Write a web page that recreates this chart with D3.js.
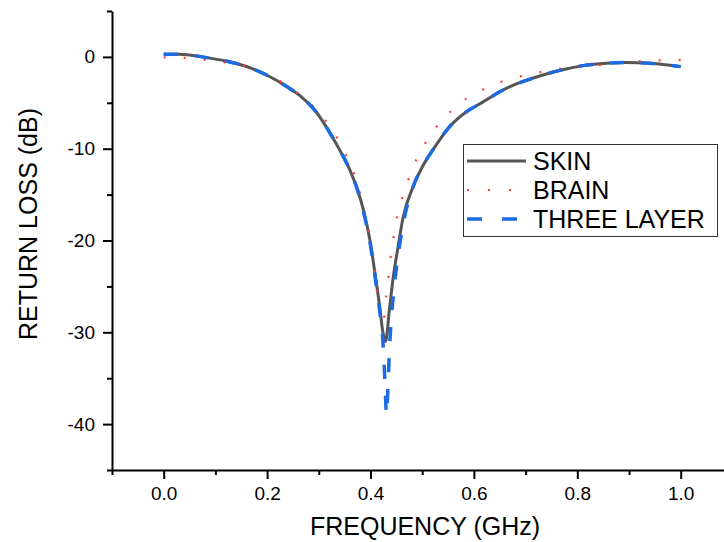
<!DOCTYPE html>
<html>
<head>
<meta charset="utf-8">
<script src="https://cdn.jsdelivr.net/npm/d3@7"></script>
<style>
  body { margin: 0; background: #fff; }
  svg { display: block; font-family: "Liberation Sans", Arial, sans-serif; }
</style>
</head>
<body>
<div id="chart"></div>
<script>
// data (GHz, dB)
var skinFreq = [0.00, 0.03, 0.08, 0.12, 0.16, 0.20, 0.24, 0.263, 0.295, 0.327, 0.343, 0.360, 0.375, 0.386, 0.399, 0.409, 0.418, 0.424, 0.429,
  0.437, 0.444, 0.453, 0.463, 0.482, 0.50, 0.521, 0.553, 0.585, 0.618, 0.65, 0.682, 0.715, 0.747, 0.78, 0.811, 0.85, 0.894, 0.94, 0.97, 1.00];
var skinLoss = [0.30, 0.30, -0.05, -0.45, -1.05, -2.0, -3.3, -4.2, -6.0, -8.8, -10.4, -12.3, -14.5, -16.6, -20.0, -23.7, -27.3, -30.0, -31.0,
  -27.3, -24.0, -20.8, -17.5, -14.2, -12.0, -10.1, -7.6, -6.0, -4.9, -3.8, -2.95, -2.3, -1.75, -1.3, -0.95, -0.72, -0.6, -0.7, -0.85, -1.06];

var brainFreq = [0.00, 0.04, 0.08, 0.12, 0.16, 0.194, 0.227, 0.258, 0.286, 0.313, 0.334, 0.352, 0.367, 0.378, 0.394, 0.406, 0.410, 0.419, 0.424,
  0.431, 0.435, 0.439, 0.444, 0.450, 0.459, 0.470, 0.483, 0.499, 0.518, 0.541, 0.569, 0.603, 0.639, 0.677, 0.716, 0.793, 0.832, 0.871, 0.911, 0.950, 1.00];
var brainLoss = [-0.04, -0.10, -0.33, -0.6, -1.0, -1.8, -2.7, -3.9, -5.2, -6.95, -8.7, -10.6, -12.5, -14.5, -18.5, -22.5, -24.0, -28.6, -29.0,
  -25.8, -23.9, -21.8, -19.8, -17.8, -15.8, -13.9, -11.9, -10.1, -8.3, -6.8, -5.2, -4.0, -3.0, -2.3, -1.8, -1.1, -0.95, -0.7, -0.5, -0.4, -0.35];

var threeFreq = [0.00, 0.03, 0.08, 0.12, 0.16, 0.20, 0.24, 0.263, 0.295, 0.327, 0.343, 0.360, 0.375, 0.386, 0.399, 0.409, 0.418, 0.424, 0.428, 0.431,
  0.434, 0.437, 0.441, 0.447, 0.455, 0.465, 0.482, 0.50, 0.521, 0.553, 0.585, 0.618, 0.65, 0.682, 0.715, 0.747, 0.78, 0.811, 0.85, 0.894, 0.94, 0.97, 1.00];
var threeLoss = [0.30, 0.30, -0.05, -0.45, -1.05, -2.0, -3.3, -4.2, -6.0, -8.8, -10.4, -12.3, -14.5, -16.8, -20.2, -24.0, -27.8, -31.0, -35.5, -39.0,
  -35.5, -31.5, -28.0, -24.5, -21.0, -17.7, -14.2, -12.0, -10.1, -7.6, -6.0, -4.9, -3.8, -2.95, -2.3, -1.75, -1.3, -0.95, -0.72, -0.6, -0.7, -0.85, -1.06];

var seriesNames = ["SKIN", "BRAIN", "THREE LAYER"];
var xTicks = [0.0, 0.2, 0.4, 0.6, 0.8, 1.0];
var xMinor = [-0.1, 0.1, 0.3, 0.5, 0.7, 0.9, 1.1];
var yTicks = [0, -10, -20, -30, -40];
var yMinor = [5, -5, -15, -25, -35, -45];

var svgWidth = 724;
var svgHeight = 542;

var svg = d3.select("#chart")
  .append("svg")
  .attr("width", svgWidth)
  .attr("height", svgHeight);

// scales
var x = d3.scaleLinear().domain([-0.1, 1.1]).range([112, 112 + 517 * 1.2]);
var y = d3.scaleLinear().domain([-45, 5]).range([470, 11]);

// axes
function styleAxis(g) {
  g.attr("font-size", 19).attr("font-family", "Liberation Sans, Arial, sans-serif");
  g.selectAll("path, line").attr("stroke", "#000").attr("stroke-width", 2);
  g.selectAll("text").attr("fill", "#000");
}

svg.append("g")
  .attr("transform", "translate(0,470)")
  .call(d3.axisBottom(x).tickValues(xTicks).tickFormat(d => d.toFixed(1)).tickSize(9).tickSizeOuter(0).tickPadding(8))
  .call(styleAxis);

svg.append("g")
  .attr("transform", "translate(0,470)")
  .call(d3.axisBottom(x).tickValues(xMinor).tickFormat("").tickSize(5).tickSizeOuter(0))
  .call(styleAxis)
  .select(".domain").remove();

svg.append("g")
  .attr("transform", "translate(112,0)")
  .call(d3.axisLeft(y).tickValues(yTicks).tickFormat(d => String(d)).tickSize(9).tickSizeOuter(0).tickPadding(8))
  .call(styleAxis);

svg.append("g")
  .attr("transform", "translate(112,0)")
  .call(d3.axisLeft(y).tickValues(yMinor).tickFormat("").tickSize(5).tickSizeOuter(0))
  .call(styleAxis)
  .select(".domain").remove();

// axis titles
svg.append("text")
  .attr("x", 425)
  .attr("y", 535)
  .attr("text-anchor", "middle")
  .attr("font-size", 25)
  .text("FREQUENCY (GHz)");

svg.append("text")
  .attr("transform", "translate(37,224) rotate(-90)")
  .attr("text-anchor", "middle")
  .attr("font-size", 25)
  .text("RETURN LOSS (dB)");

// lines
var line = d3.line()
  .x(d => x(d[0]))
  .y(d => y(d[1]))
  .curve(d3.curveMonotoneX);

var styles = [
  { color: "#555555", width: 3, dash: null },
  { color: "#ff3b3b", width: 2.2, dash: "2,18" },
  { color: "#1c6be0", width: 3.5, dash: "14,17" }
];

var seriesData = [
  d3.zip(skinFreq, skinLoss),
  d3.zip(brainFreq, brainLoss),
  d3.zip(threeFreq, threeLoss)
];

seriesData.forEach(function(data, i) {
  svg.append("path")
    .datum(data)
    .attr("fill", "none")
    .attr("stroke", styles[i].color)
    .attr("stroke-width", styles[i].width)
    .attr("stroke-dasharray", styles[i].dash)
    .attr("d", line);
});

// legend
var legend = svg.append("g");
legend.append("rect")
  .attr("x", 463.5)
  .attr("y", 144.5)
  .attr("width", 254)
  .attr("height", 92)
  .attr("fill", "#fff")
  .attr("stroke", "#333")
  .attr("stroke-width", 1);

seriesNames.forEach(function(name, i) {
  var cy = 161 + i * 29;
  legend.append("line")
    .attr("x1", 467).attr("x2", 526)
    .attr("y1", cy).attr("y2", cy)
    .attr("stroke", styles[i].color)
    .attr("stroke-width", styles[i].width)
    .attr("stroke-dasharray", i == 1 ? "2,19" : (i == 2 ? "15,20" : null));
  legend.append("text")
    .attr("x", 533)
    .attr("y", cy + 8.5)
    .attr("font-size", 25)
    .text(name);
});
</script>
</body>
</html>
